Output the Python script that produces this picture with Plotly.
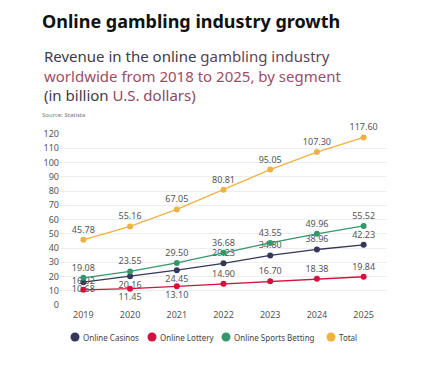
import plotly.graph_objects as go

years = [2019, 2020, 2021, 2022, 2023, 2024, 2025]
casinos = [16.02, 20.16, 24.45, 29.23, 34.80, 38.96, 42.23]
lottery = [10.68, 11.45, 13.10, 14.90, 16.70, 18.38, 19.84]
sports = [19.08, 23.55, 29.50, 36.68, 43.55, 49.96, 55.52]
total = [45.78, 55.16, 67.05, 80.81, 95.05, 107.30, 117.60]
y_ticks = [0, 10, 20, 30, 40, 50, 60, 70, 80, 90, 100, 110, 120]
series_names = ["Online Casinos", "Online Lottery", "Online Sports Betting", "Total"]

casino_pos = ["middle center", "bottom center", "bottom center", "top center", "top center", "top center", "top center"]
lottery_pos = ["middle center", "bottom center", "bottom center", "top center", "top center", "top center", "top center"]

FONT = "Noto Sans"
colors = ["#34375a", "#d3123e", "#35976c", "#f0b143"]
positions = [casino_pos, lottery_pos, "top center", "top center"]
values = [casinos, lottery, sports, total]

W, H = 440, 361
M = dict(l=52, r=61, t=126, b=64)
PW = W - M["l"] - M["r"]
PH = H - M["t"] - M["b"]

fig = go.Figure()
for name, vals, color, pos in zip(series_names, values, colors, positions):
    fig.add_trace(go.Scatter(
        x=years, y=vals, name=name, mode="lines+markers+text",
        line=dict(color=color, width=1.3),
        marker=dict(color=color, size=6),
        text=[f"{v:.2f}" for v in vals], textposition=pos,
        textfont=dict(family=FONT, size=9, color="#555555"),
        cliponaxis=False, showlegend=False,
    ))

fig.update_layout(
    width=W, height=H,
    margin=dict(**M, autoexpand=False),
    paper_bgcolor="white", plot_bgcolor="white",
    font=dict(family=FONT, color="#555555", size=9),
    showlegend=False,
    xaxis=dict(range=[2018.5, 2025.5], tickvals=years, showgrid=False, zeroline=False,
               showline=False, ticks="", tickfont=dict(size=9, color="#555555"),
               ticklabelstandoff=3),
    yaxis=dict(range=[0, 120], tickvals=y_ticks, showgrid=True, gridcolor="#eeeeee",
               gridwidth=1, zeroline=False, showline=False, ticks="",
               tickfont=dict(size=9, color="#555555"), ticklabelstandoff=0),
)

# compact legend (circle + label), laid out in pixels below the plot
legend_marker_px = [67, 144, 218, 323]
legend_y_px = 329
ly = (H - M["b"] - legend_y_px) / PH
for name, color, mx in zip(series_names, colors, legend_marker_px):
    px = (mx - M["l"]) / PW
    fig.add_shape(type="circle", xref="paper", yref="paper", xsizemode="pixel", ysizemode="pixel",
                  xanchor=px, yanchor=ly, x0=-4.5, x1=4.5, y0=-4.5, y1=4.5,
                  fillcolor=color, line=dict(width=0))
    fig.add_annotation(xref="paper", yref="paper", x=(mx + 6 - M["l"]) / PW, y=ly,
                       xanchor="left", yanchor="middle", showarrow=False, text=name,
                       font=dict(family=FONT, size=8, color="#444444"))

fig.add_annotation(xref="paper", yref="paper", x=-0.06, y=1.0, xanchor="left", yanchor="bottom",
                   yshift=99, showarrow=False, align="left",
                   text="<b>Online gambling industry growth</b>",
                   font=dict(family=FONT, size=18, color="#111111"))
fig.add_annotation(xref="paper", yref="paper", x=-0.054, y=1.0, xanchor="left", yanchor="bottom",
                   yshift=27, showarrow=False, align="left",
                   text=("<span style='color:#3d3b48'>Revenue in the online </span>"
                         "<span style='color:#5e4556'>gambling industry</span><br>"
                         "<span style='color:#9d4d66'>worldwide from 2018 to 2025, by segment</span><br>"
                         "<span style='color:#3d3b48'>(in billion </span>"
                         "<span style='color:#8a4a62'>U.S. dollars)</span>"),
                   font=dict(family=FONT, size=15))
fig.add_annotation(xref="paper", yref="paper", x=-0.06, y=1.0, xanchor="left", yanchor="bottom",
                   yshift=13, showarrow=False, align="left",
                   text="Source: Statista", font=dict(family=FONT, size=6, color="#777777"))

fig.write_html("out.html")
